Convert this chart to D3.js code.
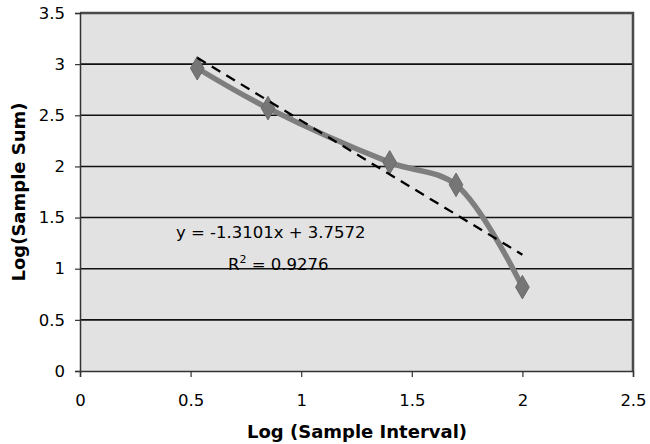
<!DOCTYPE html>
<html><head><meta charset="utf-8">
<script src="https://cdn.jsdelivr.net/npm/d3@7"></script>
<style>body{margin:0;background:#fff;} svg{display:block;}</style>
</head><body>
<svg id="c" width="650" height="444"></svg>
<script>
const xValues = [0.53, 0.85, 1.40, 1.70, 2.00];
const yValues = [2.96, 2.57, 2.04, 1.82, 0.82];
const trendSlope = -1.3101, trendIntercept = 3.7572;
const xTicks = [0, 0.5, 1, 1.5, 2, 2.5];
const yTicks = [0, 0.5, 1, 1.5, 2, 2.5, 3, 3.5];
const eqText = "y = -1.3101x + 3.7572";
const r2Value = "0.9276";
const xTitle = "Log (Sample Interval)";
const yTitle = "Log(Sample Sum)";

const svg = d3.select("#c");
const L = 80, R = 633, T = 13, B = 371;
const x = d3.scaleLinear().domain([0, 2.5]).range([L, R]);
const y = d3.scaleLinear().domain([0, 3.5]).range([B, T]);
const font = "DejaVu Sans, Verdana, sans-serif";

// plot background
svg.append("rect").attr("x", L).attr("y", T).attr("width", R - L).attr("height", B - T)
  .attr("fill", "#e2e2e2");

// gridlines
svg.append("g").selectAll("line").data(yTicks.filter(d => d > 0 && d < 3.5)).join("line")
  .attr("x1", L).attr("x2", R).attr("y1", d => y(d)).attr("y2", d => y(d))
  .attr("stroke", "#111").attr("stroke-width", 1.6);

// border
svg.append("path").attr("d", `M${L},${T}H${R}V${B}`).attr("fill", "none")
  .attr("stroke", "#4a4a4a").attr("stroke-width", 2.5);

// axes
const xAxis = d3.axisBottom(x).tickValues(xTicks).tickSize(6).tickPadding(17)
  .tickFormat(d => String(d));
const gx = svg.append("g").attr("transform", `translate(0,${B})`).call(xAxis);
const yAxis = d3.axisLeft(y).tickValues(yTicks).tickSize(5).tickPadding(10)
  .tickFormat(d => String(d));
const gy = svg.append("g").attr("transform", `translate(${L},0)`).call(yAxis);
[gx, gy].forEach(g => {
  g.select(".domain").attr("stroke", "#333").attr("stroke-width", 1.5);
  g.selectAll(".tick line").attr("stroke", "#333").attr("stroke-width", 1.2);
  g.selectAll("text").attr("font-family", font).attr("font-size", 16.5).attr("fill", "#000");
});

// data line (smoothed)
const pts = xValues.map((v, i) => [v, yValues[i]]);
const line = d3.line().x(d => x(d[0])).y(d => y(d[1])).curve(d3.curveCatmullRom.alpha(0.5));
svg.append("path").datum(pts).attr("d", line).attr("fill", "none")
  .attr("stroke", "#7e7e7e").attr("stroke-width", 5.5).attr("stroke-linejoin", "round");

// markers
const sym = d3.symbol().type(d3.symbolDiamond).size(160);
svg.append("g").selectAll("path").data(pts).join("path")
  .attr("d", sym).attr("transform", d => `translate(${x(d[0])},${y(d[1])})`)
  .attr("fill", "#767676").attr("stroke", "#6a6a6a").attr("stroke-width", 1);

// trendline
const tx = [xValues[0], xValues[xValues.length - 1]];
svg.append("line")
  .attr("x1", x(tx[0])).attr("y1", y(trendSlope * tx[0] + trendIntercept))
  .attr("x2", x(tx[1])).attr("y2", y(trendSlope * tx[1] + trendIntercept))
  .attr("stroke", "#000").attr("stroke-width", 2.3).attr("stroke-dasharray", "10,7");

// equation
svg.append("text").attr("x", 176).attr("y", 238).attr("font-family", font).attr("font-size", 16.5)
  .text(eqText);
const r2 = svg.append("text").attr("x", 228).attr("y", 270).attr("font-family", font).attr("font-size", 16.5);
r2.append("tspan").text("R");
r2.append("tspan").attr("dy", -7).attr("font-size", 11).text("2");
r2.append("tspan").attr("dy", 7).text(" = " + r2Value);

// axis titles
svg.append("text").attr("x", 357).attr("y", 438).attr("text-anchor", "middle")
  .attr("font-family", font).attr("font-size", 18).attr("font-weight", "bold").text(xTitle);
svg.append("text").attr("transform", `translate(25,192) rotate(-90)`)
  .attr("text-anchor", "middle").attr("font-family", font).attr("font-size", 18)
  .attr("font-weight", "bold").text(yTitle);
</script>
</body></html>
